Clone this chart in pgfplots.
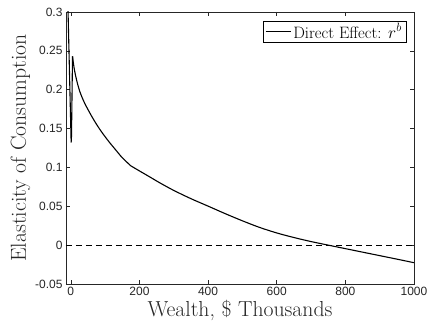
\documentclass[border=0pt]{standalone}
\usepackage{fontspec}
\usepackage{pgfplots}
\pgfplotsset{compat=1.18}
\usetikzlibrary{calc}
\newfontfamily\tickfont{Liberation Sans}
\definecolor{axgray}{RGB}{38,38,38}
\begin{document}
\begin{tikzpicture}
\begin{axis}[
  scale only axis,
  width=348pt, height=272pt,
  xmin=-14, xmax=1000,
  ymin=-0.05, ymax=0.3,
  xtick={0,200,400,600,800,1000},
  ytick={-0.05,0,0.05,0.1,0.15,0.2,0.25,0.3},
  tick align=inside,
  major tick length=4pt,
  axis line style={axgray, line width=0.5pt},
  every tick/.style={axgray, line width=0.5pt},
  tick label style={font=\tickfont\fontsize{12}{14}\selectfont, text=axgray},
  /pgf/number format/assume math mode=true,
  yticklabel style={/pgf/number format/fixed, /pgf/number format/precision=2},
  xticklabel style={/pgf/number format/fixed, /pgf/number format/1000 sep={}},
  scaled y ticks=false,
  xlabel={Wealth, \$ Thousands},
  ylabel={Elasticity of Consumption},
  xlabel style={font=\fontsize{21.7}{24}\selectfont, text=axgray, yshift=3pt},
  ylabel style={font=\fontsize{21.7}{24}\selectfont, text=axgray, yshift=-2pt},
  legend style={at={(1,1)}, anchor=north east, xshift=-8pt, yshift=-8.7pt,
    draw=black, line width=0.5pt, font=\fontsize{16.5}{18}\selectfont,
    inner xsep=2pt, inner ysep=0.5pt},
  legend cell align=left,
  legend image code/.code={\draw[#1, line width=1.1pt] (0pt,0pt) -- (25pt,0pt);},
]
\addplot[black, line width=1.1pt] coordinates {
(-10,0.330) (-8,0.300) (1,0.132) (2,0.140) (5,0.243)
};
\addlegendentry{Direct Effect: $r^b$}
\addplot[black, line width=1.1pt, smooth, tension=0.5, forget plot] coordinates {
(5,0.243) (7,0.236) (10,0.227) (14,0.218) (20,0.207) (26,0.198) (32,0.191)
(40,0.183) (50,0.1745) (60,0.1665) (70,0.159) (80,0.152) (90,0.1455)
(100,0.1395) (114,0.1315) (130,0.123) (150,0.1125) (175,0.102)
};
\addplot[black, line width=1.1pt, smooth, tension=0.5, forget plot] coordinates {
(175,0.1020) (200,0.0955) (230,0.0878) (260,0.0800) (300,0.0704)
(350,0.0598) (400,0.0502) (450,0.0405) (500,0.0313) (550,0.0228)
(600,0.0157) (650,0.0098) (700,0.0046) (750,0.0000) (800,-0.0045)
(850,-0.0090) (900,-0.0135) (950,-0.0180) (1000,-0.0226)
};
\addplot[black, line width=1pt, dash pattern=on 6pt off 4pt, forget plot] coordinates {(-14,0) (1000,0)};
\end{axis}
\pgfresetboundingbox
\path ($(current axis.south west)+(-66pt,-39pt)$) rectangle ($(current axis.north east)+(15pt,12pt)$);
\end{tikzpicture}
\end{document}
